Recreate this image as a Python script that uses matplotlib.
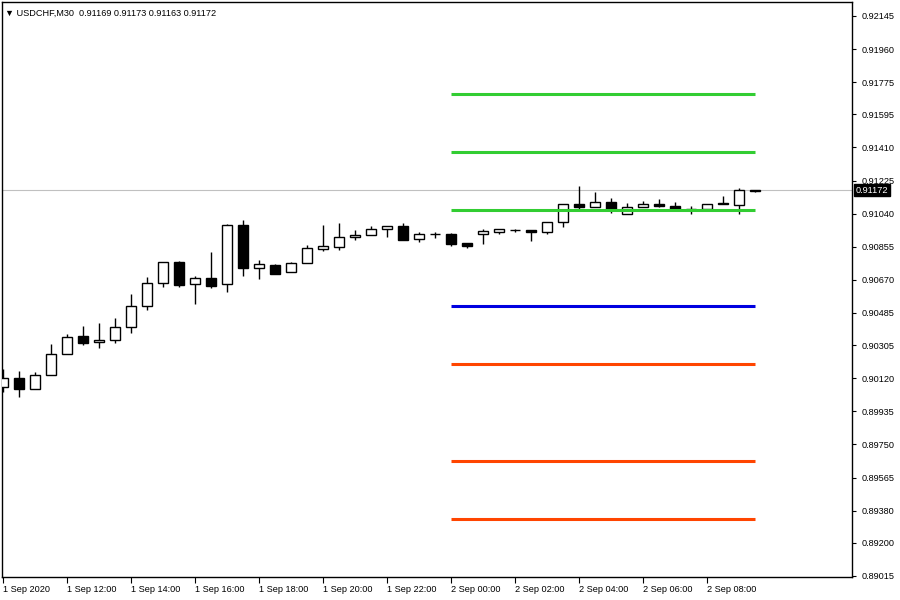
import numpy as np
import pandas as pd
import matplotlib
matplotlib.use('Agg')
import matplotlib.pyplot as plt
import matplotlib.transforms as mtransforms

# USDCHF M30 candles, 1 Sep 2020 10:00 onwards
opens = [0.90071, 0.90121, 0.90060, 0.90138, 0.90256, 0.90356, 0.90323, 0.90334,
         0.90406, 0.90524, 0.90652, 0.90770, 0.90647, 0.90680, 0.90647, 0.90977,
         0.90736, 0.90753, 0.90714, 0.90764, 0.90842, 0.90854, 0.90910, 0.90921,
         0.90954, 0.90971, 0.90898, 0.90926, 0.90926, 0.90876, 0.90926, 0.90938,
         0.90949, 0.90949, 0.90938, 0.90993, 0.91094, 0.91077, 0.91105, 0.91038,
         0.91077, 0.91094, 0.91083, 0.91066, 0.91066, 0.91100, 0.91088, 0.91169]
highs = [0.90172, 0.90161, 0.90155, 0.90311, 0.90367, 0.90411, 0.90429, 0.90457,
         0.90591, 0.90686, 0.90772, 0.90775, 0.90692, 0.90826, 0.90980, 0.91005,
         0.90781, 0.90759, 0.90770, 0.90865, 0.90977, 0.90988, 0.90949, 0.90971,
         0.90973, 0.90988, 0.90938, 0.90938, 0.90932, 0.90876, 0.90954, 0.90956,
         0.90954, 0.90950, 0.90995, 0.91096, 0.91195, 0.91161, 0.91128, 0.91100,
         0.91111, 0.91122, 0.91105, 0.91083, 0.91096, 0.91139, 0.91184, 0.91173]
lows = [0.90043, 0.90015, 0.90058, 0.90136, 0.90254, 0.90306, 0.90289, 0.90317,
        0.90373, 0.90502, 0.90630, 0.90630, 0.90535, 0.90624, 0.90602, 0.90692,
        0.90675, 0.90701, 0.90712, 0.90762, 0.90831, 0.90837, 0.90893, 0.90919,
        0.90910, 0.90891, 0.90882, 0.90904, 0.90859, 0.90848, 0.90870, 0.90926,
        0.90938, 0.90887, 0.90926, 0.90966, 0.91066, 0.91075, 0.91044, 0.91036,
        0.91075, 0.91077, 0.91064, 0.91038, 0.91064, 0.91092, 0.91038, 0.91163]
closes = [0.90121, 0.90060, 0.90138, 0.90256, 0.90351, 0.90317, 0.90334, 0.90406,
          0.90524, 0.90652, 0.90770, 0.90641, 0.90680, 0.90636, 0.90977, 0.90736,
          0.90759, 0.90703, 0.90764, 0.90848, 0.90859, 0.90910, 0.90921, 0.90954,
          0.90971, 0.90893, 0.90926, 0.90927, 0.90870, 0.90859, 0.90943, 0.90954,
          0.90950, 0.90938, 0.90993, 0.91094, 0.91077, 0.91105, 0.91066, 0.91077,
          0.91094, 0.91083, 0.91066, 0.91067, 0.91094, 0.91094, 0.91172, 0.91172]

# pivot levels drawn from 2 Sep 00:00
resistance = [0.91061, 0.91385, 0.91709]
pivot = 0.90524
support = [0.90200, 0.89657, 0.89333]

price_ticks = [0.92145, 0.91960, 0.91775, 0.91595, 0.91410, 0.91225, 0.91040,
               0.90855, 0.90670, 0.90485, 0.90305, 0.90120, 0.89935, 0.89750,
               0.89565, 0.89380, 0.89200, 0.89015]
last_price = 0.91172

times = pd.date_range('2020-09-01 10:00', periods=len(opens), freq='30min')
o = np.array(opens); h = np.array(highs); l = np.array(lows); c = np.array(closes)
x = np.arange(len(o))

plt.rcParams['font.family'] = ['Liberation Sans', 'DejaVu Sans']
fs = 6.6
fig = plt.figure(figsize=(9, 6), dpi=100)
ax = fig.add_axes([2 / 900, 23 / 600, 850 / 900, 575 / 600])

ax.axhline(last_price, color='#c0c0c0', lw=0.8, zorder=0)

ax.vlines(x, l, h, color='black', lw=1.0, zorder=2)
bull = c >= o
ax.bar(x, np.abs(c - o), bottom=np.minimum(o, c), width=0.64,
       color=np.where(bull, 'white', 'black'), edgecolor='black', lw=1.0, zorder=3)

start = list(times).index(pd.Timestamp('2020-09-02 00:00'))
ax.hlines(resistance, start, x[-1], color='#32cd32', lw=2.2, zorder=4)
ax.hlines(pivot, start, x[-1], color='#0000e0', lw=2.2, zorder=4)
ax.hlines(support, start, x[-1], color='#ff4500', lw=2.2, zorder=4)

ax.set_xlim(-0.06, 53.06)
ax.set_ylim(0.89009, 0.92223)

# time axis
tick_idx = x[::4]
labels = []
for i in tick_idx:
    t = times[i]
    labels.append('1 Sep 2020' if i == 0 else f'{t.day} {t:%b %H:%M}')
ax.set_xticks(tick_idx)
ax.set_xticklabels(labels, ha='left', fontsize=fs)
ax.tick_params(axis='x', length=4, width=0.8, pad=2)

# price axis
ax.yaxis.tick_right()
ax.set_yticks(price_ticks)
ax.set_yticklabels([f'{p:.5f}' for p in price_ticks], fontsize=fs)
ax.tick_params(axis='y', length=3, width=0.8, pad=4)

for s in ax.spines.values():
    s.set_linewidth(1.0)

trans = mtransforms.blended_transform_factory(ax.transAxes, ax.transData)
ax.text(1.0045, last_price, f'{last_price:.5f}', transform=trans, fontsize=fs,
        color='white', va='center', ha='left', zorder=10, clip_on=False,
        bbox=dict(boxstyle='square,pad=0.2', fc='black', ec='black'))

ax.text(0.003, 0.988, '\u25bc USDCHF,M30  0.91169 0.91173 0.91163 0.91172',
        transform=ax.transAxes, fontsize=fs, va='top', ha='left')

fig.savefig('out.png', dpi=100)
